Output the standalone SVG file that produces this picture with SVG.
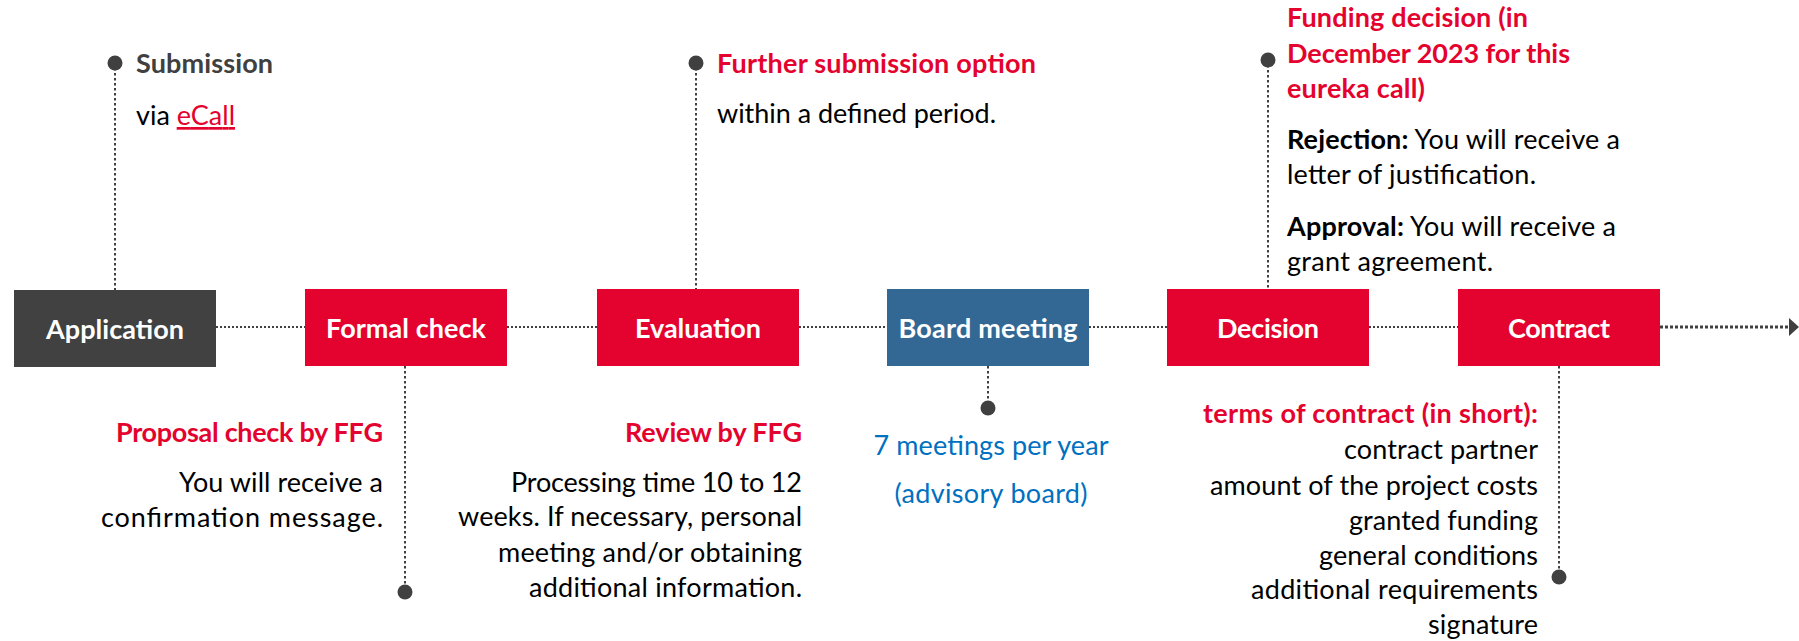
<svg xmlns="http://www.w3.org/2000/svg" width="1799" height="641" viewBox="0 0 1799 641">
<defs>
<style>
text{font-family:Lato,"Liberation Sans",sans-serif;font-size:27px}
.b{font-weight:bold}
.lbl{font-weight:bold;fill:#fff;text-anchor:middle;font-size:27px}
.red{fill:#E4032E}
.blk{fill:#000}
.gry{fill:#404040}
.blu{fill:#0070C0}
.r{text-anchor:end}
.m{text-anchor:middle}
.h{stroke:#404040;stroke-width:2;stroke-dasharray:2 2;fill:none}
.v{stroke:#404040;stroke-width:2;stroke-dasharray:2.5 2.5;fill:none}
.dot{fill:#404040}
</style>
</defs>
<rect width="1799" height="641" fill="#fff"/>

<g id="connectors">
<line class="h" x1="216" y1="327" x2="305" y2="327"/>
<line class="h" x1="507" y1="327" x2="597" y2="327"/>
<line class="h" x1="799" y1="327" x2="887" y2="327"/>
<line class="h" x1="1089" y1="327" x2="1167" y2="327"/>
<line class="h" x1="1369" y1="327" x2="1458" y2="327"/>
<line stroke="#404040" stroke-width="3" stroke-dasharray="3 2" x1="1660" y1="327" x2="1791" y2="327"/>
<path d="M1789,318 L1799,327 L1789,336 Z" fill="#404040"/>
<line class="v" x1="115" y1="63" x2="115" y2="290"/>
<line class="v" x1="405" y1="366" x2="405" y2="592"/>
<line class="v" x1="696" y1="63" x2="696" y2="289"/>
<line class="v" x1="988" y1="366" x2="988" y2="408"/>
<line class="v" x1="1268" y1="60" x2="1268" y2="289"/>
<line class="v" x1="1559" y1="366" x2="1559" y2="577"/>
<circle class="dot" cx="115" cy="63" r="7.5"/>
<circle class="dot" cx="405" cy="592" r="7.5"/>
<circle class="dot" cx="696" cy="63" r="7.5"/>
<circle class="dot" cx="988" cy="408" r="7.5"/>
<circle class="dot" cx="1268" cy="60" r="7.5"/>
<circle class="dot" cx="1559" cy="577" r="7.5"/>
</g>

<g id="application">
<rect x="14" y="290" width="202" height="77" fill="#414141"/>
<text class="lbl" x="115" y="339" textLength="138">Application</text>
</g>
<g id="formal-check">
<rect x="305" y="289" width="202" height="77" fill="#E4032E"/>
<text class="lbl" x="406" y="338" textLength="160">Formal check</text>
</g>
<g id="evaluation">
<rect x="597" y="289" width="202" height="77" fill="#E4032E"/>
<text class="lbl" x="698" y="338" textLength="126">Evaluation</text>
</g>
<g id="board-meeting">
<rect x="887" y="289" width="202" height="77" fill="#336894"/>
<text class="lbl" x="988" y="338" textLength="179">Board meeting</text>
</g>
<g id="decision">
<rect x="1167" y="289" width="202" height="77" fill="#E4032E"/>
<text class="lbl" x="1268" y="338" textLength="102">Decision</text>
</g>
<g id="contract">
<rect x="1458" y="289" width="202" height="77" fill="#E4032E"/>
<text class="lbl" x="1559" y="338" textLength="102">Contract</text>
</g>

<g id="note-submission">
<text class="b gry" x="136" y="73" textLength="137">Submission</text>
<text class="blk" x="136" y="125" textLength="99">via <tspan class="red" text-decoration="underline">eCall</tspan></text>
</g>
<g id="note-further">
<text class="b red" x="717" y="73" textLength="319">Further submission option</text>
<text class="blk" x="717" y="123" textLength="279">within a defined period.</text>
</g>
<g id="note-proposal">
<text class="b red r" x="383" y="442" textLength="267">Proposal check by FFG</text>
<text class="blk r" x="383" y="492" textLength="204">You will receive a</text>
<text class="blk r" x="383" y="527" textLength="282">confirmation message.</text>
</g>
<g id="note-review">
<text class="b red r" x="802" y="442" textLength="177">Review by FFG</text>
<text class="blk r" x="802" y="492" textLength="291">Processing time 10 to 12</text>
<text class="blk r" x="802" y="526" textLength="344">weeks. If necessary, personal</text>
<text class="blk r" x="802" y="562" textLength="304">meeting and/or obtaining</text>
<text class="blk r" x="802" y="597" textLength="273">additional information.</text>
</g>
<g id="note-board">
<text class="blu m" x="991" y="455" textLength="235">7 meetings per year</text>
<text class="blu m" x="991" y="503" textLength="193">(advisory board)</text>
</g>
<g id="note-decision">
<text class="b red" x="1287" y="27" textLength="241">Funding decision (in</text>
<text class="b red" x="1287" y="63" textLength="283">December 2023 for this</text>
<text class="b red" x="1287" y="98" textLength="138">eureka call)</text>
<text class="blk" x="1287" y="149" textLength="333"><tspan class="b">Rejection:</tspan> You will receive a</text>
<text class="blk" x="1287" y="184" textLength="249">letter of justification.</text>
<text class="blk" x="1287" y="236" textLength="329"><tspan class="b">Approval:</tspan> You will receive a</text>
<text class="blk" x="1287" y="271" textLength="206">grant agreement.</text>
</g>
<g id="note-contract">
<text class="b red r" x="1538" y="423" textLength="335">terms of contract (in short):</text>
<text class="blk r" x="1538" y="459" textLength="194">contract partner</text>
<text class="blk r" x="1538" y="495" textLength="328">amount of the project costs</text>
<text class="blk r" x="1538" y="530" textLength="189">granted funding</text>
<text class="blk r" x="1538" y="565" textLength="219">general conditions</text>
<text class="blk r" x="1538" y="599" textLength="287">additional requirements</text>
<text class="blk r" x="1538" y="634" textLength="110">signature</text>
</g>
</svg>
